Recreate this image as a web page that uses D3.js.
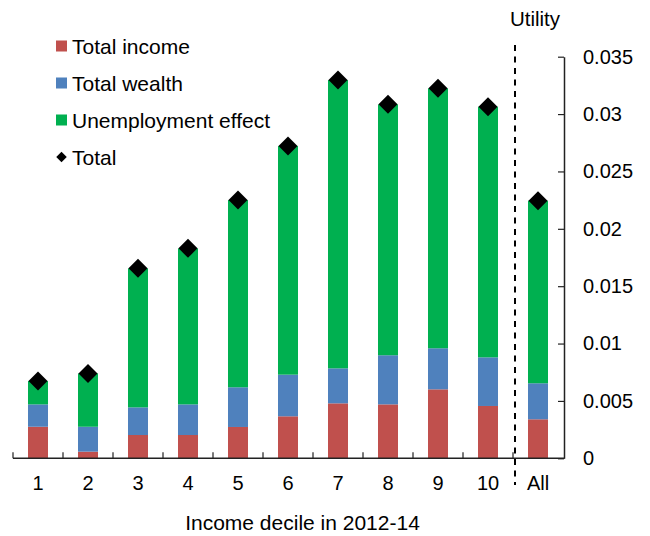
<!DOCTYPE html>
<html><head><meta charset="utf-8">
<script src="https://cdn.jsdelivr.net/npm/d3@7/dist/d3.min.js"></script>
<style>
html,body{margin:0;padding:0;background:#fff;}
svg text{font-family:"Liberation Sans",Arial,sans-serif;fill:#000;}
</style></head>
<body><svg id="c" width="650" height="536"></svg>
<script>
const categories = ["1","2","3","4","5","6","7","8","9","10","All"];
const totalIncome = [0.00275,0.00058,0.00203,0.00203,0.00273,0.00366,0.00479,0.00470,0.00601,0.00456,0.00340];
const totalWealth = [0.00195,0.00217,0.00241,0.00267,0.00346,0.00363,0.00305,0.00428,0.00358,0.00424,0.00314];
const unemploymentEffect = [0.00204,0.00465,0.01212,0.01360,0.01632,0.01993,0.02513,0.02187,0.02266,0.02184,0.01591];
const totals = [0.00674,0.00740,0.01656,0.01830,0.02251,0.02722,0.03297,0.03085,0.03225,0.03064,0.02245];
const seriesNames = ["Total income","Total wealth","Unemployment effect"];
const seriesColors = ["#C0504D","#4F81BD","#00B050"];
const yTicks = [0,0.005,0.01,0.015,0.02,0.025,0.03,0.035];
const yTickLabels = ["0","0.005","0.01","0.015","0.02","0.025","0.03","0.035"];
const xTitle = "Income decile in 2012-14";
const yTitle = "Utility";

const svg = d3.select("#c");
const x = d3.scaleBand().domain(categories).range([13,563]).paddingInner(0.6).paddingOuter(0.3);
const y = d3.scaleLinear().domain([0,0.035]).range([458.3,56.7]);

const rows = categories.map((c,i)=>({cat:c, v:[totalIncome[i],totalWealth[i],unemploymentEffect[i]], total:totals[i]}));
const stack = d3.stack().keys([0,1,2]).value((d,k)=>d.v[k]);
const layers = stack(rows);

svg.append("g").selectAll("g").data(layers).join("g")
  .attr("fill",(d,i)=>seriesColors[i])
  .selectAll("rect").data(d=>d).join("rect")
  .attr("x",d=>x(d.data.cat)).attr("width",x.bandwidth())
  .attr("y",d=>y(d[1])).attr("height",d=>y(d[0])-y(d[1]));

// total diamonds
const dsym = d3.symbol().type(d3.symbolDiamond2).size(230);
svg.append("g").selectAll("path").data(rows).join("path")
  .attr("d",dsym)
  .attr("transform",d=>`translate(${x(d.cat)+x.bandwidth()/2},${y(d.total)})`)
  .attr("fill","#000");

// bottom axis
const gx = svg.append("g").attr("transform",`translate(0,${y(0)})`);
gx.append("line").attr("x1",13).attr("x2",564.5).attr("y1",0).attr("y2",0)
  .attr("stroke","#222").attr("stroke-width",1.5);
const bounds = categories.map(c=>x(c)-x.step()*x.paddingInner()/2);
gx.selectAll("line.tk").data(bounds).join("line").attr("class","tk")
  .attr("x1",d=>d).attr("x2",d=>d).attr("y1",0).attr("y2",-6)
  .attr("stroke","#222").attr("stroke-width",1.2);
gx.selectAll("text").data(categories).join("text")
  .attr("x",d=>x(d)+x.bandwidth()/2).attr("y",32).attr("text-anchor","middle")
  .style("font-size","20px").text(d=>d);

// right axis
const yAxis = d3.axisRight(y).tickValues(yTicks).tickFormat((d,i)=>yTickLabels[i])
  .tickSizeInner(-6).tickSizeOuter(0).tickPadding(19);
const gy = svg.append("g").attr("transform","translate(564,0)").call(yAxis);
gy.select(".domain").attr("stroke","#222").attr("stroke-width",1.5);
gy.selectAll(".tick line").attr("stroke","#222").attr("stroke-width",1.2);
gy.selectAll(".tick text").style("font-size","20px").attr("font-family",null);

// dashed separator
svg.append("line").attr("x1",515).attr("x2",515).attr("y1",45).attr("y2",485)
  .attr("stroke","#000").attr("stroke-width",2).attr("stroke-dasharray","6,5.5");

// titles
svg.append("text").attr("x",302.5).attr("y",530).attr("text-anchor","middle")
  .style("font-size","21px").text(xTitle);
svg.append("text").attr("x",535).attr("y",26).attr("text-anchor","middle")
  .style("font-size","20.5px").text(yTitle);

// legend
const lg = svg.append("g");
const legendY = [46,83,120,157];
seriesNames.forEach((n,i)=>{
  lg.append("rect").attr("x",56).attr("y",legendY[i]-5.5).attr("width",11).attr("height",11).attr("fill",seriesColors[i]);
  lg.append("text").attr("x",72).attr("y",legendY[i]).attr("dy","0.36em").style("font-size","21px").text(n);
});
lg.append("path").attr("d",d3.symbol().type(d3.symbolDiamond2).size(70)())
  .attr("transform",`translate(61.5,${legendY[3]})`).attr("fill","#000");
lg.append("text").attr("x",72).attr("y",legendY[3]).attr("dy","0.36em").style("font-size","21px").text("Total");
</script></body></html>
